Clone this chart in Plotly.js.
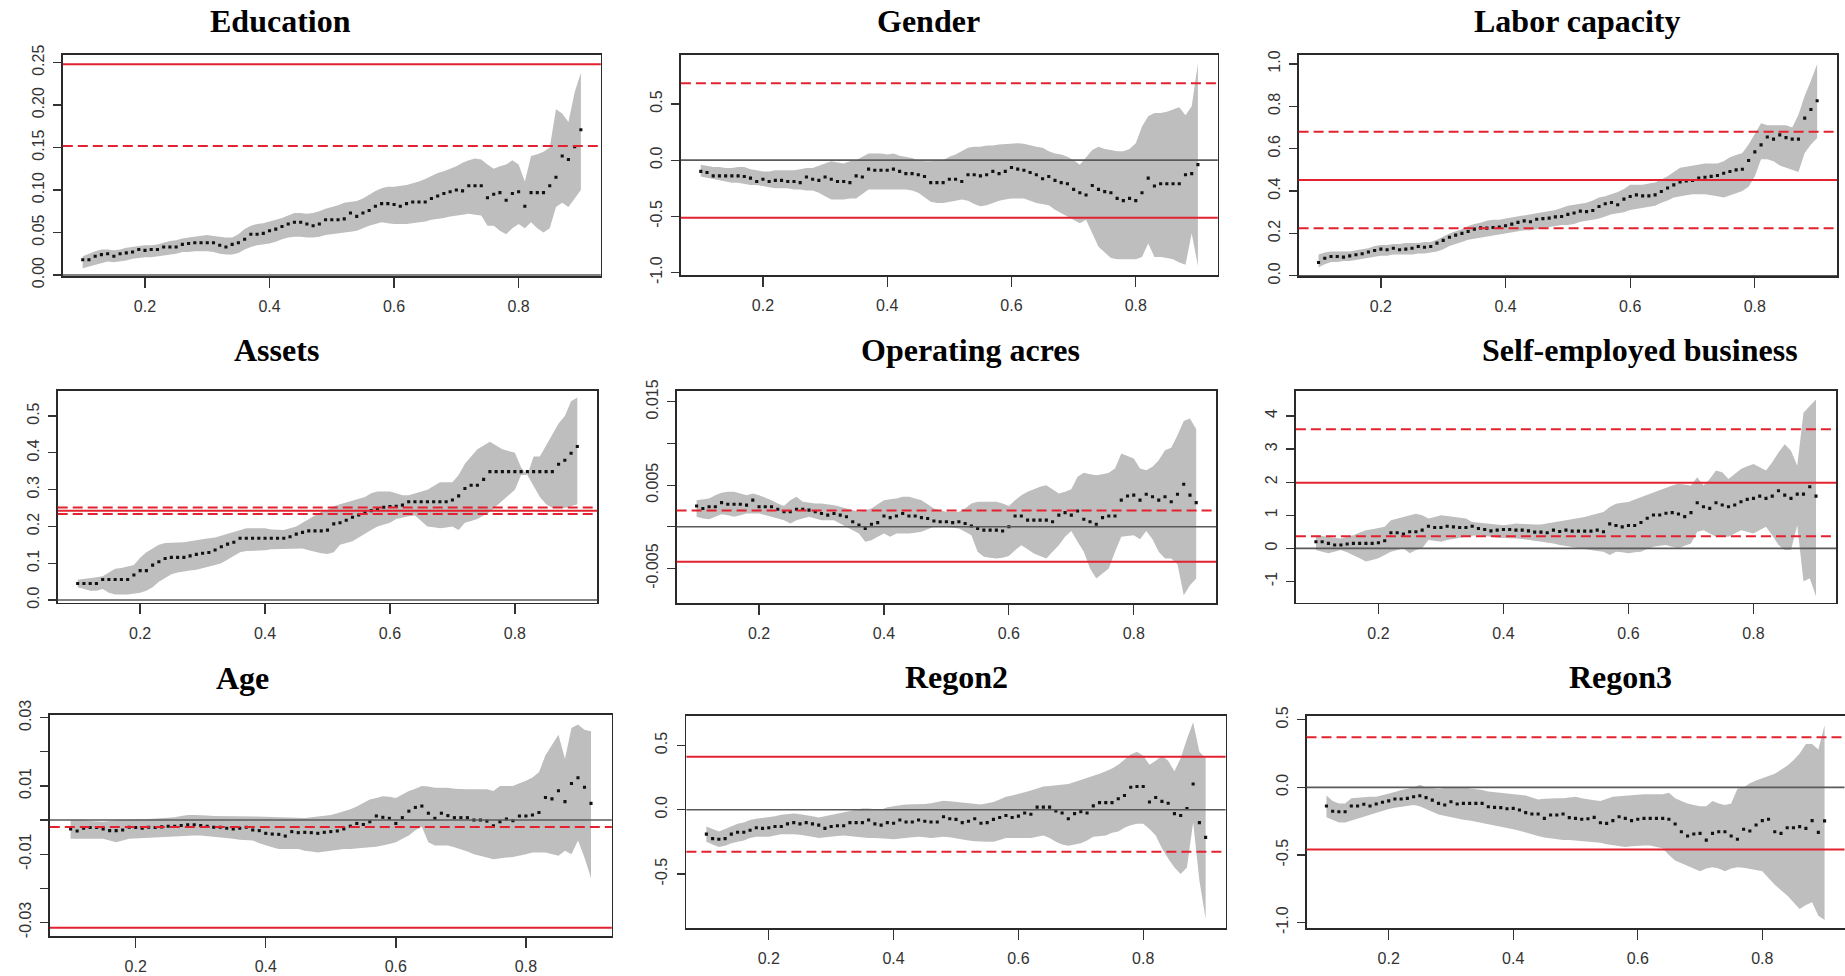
<!DOCTYPE html>
<html><head><meta charset="utf-8">
<script src="https://cdn.plot.ly/plotly-3.0.1.min.js"></script>
<style>html,body{margin:0;padding:0;background:#fff;}#chart{width:1845px;height:976px;}</style>
</head><body><div id="chart"></div>
<script>
// ---------------- DATA ----------------
const taus = [0.10,0.11,0.12,0.13,0.14,0.15,0.16,0.17,0.18,0.19,
0.20,0.21,0.22,0.23,0.24,0.25,0.26,0.27,0.28,0.29,
0.30,0.31,0.32,0.33,0.34,0.35,0.36,0.37,0.38,0.39,
0.40,0.41,0.42,0.43,0.44,0.45,0.46,0.47,0.48,0.49,
0.50,0.51,0.52,0.53,0.54,0.55,0.56,0.57,0.58,0.59,
0.60,0.61,0.62,0.63,0.64,0.65,0.66,0.67,0.68,0.69,
0.70,0.71,0.72,0.73,0.74,0.75,0.76,0.77,0.78,0.79,
0.80,0.81,0.82,0.83,0.84,0.85,0.86,0.87,0.88,0.89,
0.90];

const panelTitles = ['Education','Gender','Labor capacity','Assets','Operating acres','Self-employed business','Age','Regon2','Regon3'];
const xTickVals = [0.2,0.4,0.6,0.8];
const xTickText = ['0.2','0.4','0.6','0.8'];

// Education
const educationEst = [0.018,0.018,0.022,0.024,0.025,0.022,0.025,0.026,0.027,0.030,
0.029,0.030,0.030,0.033,0.033,0.033,0.036,0.037,0.038,0.038,
0.038,0.038,0.035,0.033,0.036,0.038,0.042,0.048,0.048,0.049,
0.052,0.054,0.057,0.060,0.062,0.062,0.060,0.058,0.060,0.065,
0.065,0.065,0.066,0.073,0.069,0.073,0.076,0.081,0.084,0.084,
0.083,0.081,0.084,0.086,0.086,0.086,0.090,0.093,0.096,0.098,
0.100,0.099,0.105,0.105,0.105,0.091,0.095,0.097,0.088,0.096,
0.098,0.081,0.097,0.097,0.097,0.105,0.115,0.140,0.136,0.151,
0.171];
const educationUpper = [0.022,0.025,0.028,0.030,0.030,0.029,0.030,0.032,0.033,0.034,
0.035,0.035,0.036,0.038,0.040,0.041,0.043,0.044,0.045,0.046,
0.047,0.046,0.045,0.044,0.044,0.048,0.054,0.058,0.060,0.061,
0.063,0.065,0.067,0.070,0.073,0.073,0.072,0.073,0.075,0.078,
0.080,0.082,0.085,0.086,0.087,0.090,0.095,0.099,0.102,0.104,
0.104,0.105,0.106,0.108,0.110,0.113,0.117,0.120,0.122,0.125,
0.128,0.132,0.135,0.137,0.136,0.130,0.125,0.128,0.130,0.135,
0.130,0.110,0.140,0.142,0.145,0.150,0.195,0.190,0.180,0.215,
0.238];
const educationLower = [0.008,0.010,0.012,0.014,0.016,0.015,0.016,0.017,0.019,0.020,
0.021,0.021,0.022,0.023,0.024,0.025,0.027,0.027,0.028,0.028,
0.028,0.027,0.025,0.024,0.024,0.026,0.030,0.033,0.035,0.036,
0.037,0.039,0.042,0.044,0.045,0.045,0.044,0.044,0.045,0.047,
0.048,0.049,0.050,0.051,0.052,0.055,0.058,0.060,0.062,0.061,
0.060,0.060,0.060,0.061,0.062,0.063,0.065,0.066,0.067,0.069,
0.070,0.071,0.072,0.071,0.070,0.058,0.058,0.052,0.048,0.055,
0.060,0.055,0.062,0.055,0.050,0.055,0.080,0.085,0.080,0.090,
0.100];

// Gender
const genderEst = [-0.10,-0.11,-0.14,-0.14,-0.14,-0.14,-0.14,-0.145,-0.16,-0.19,
-0.17,-0.19,-0.18,-0.18,-0.19,-0.19,-0.20,-0.15,-0.17,-0.18,
-0.15,-0.17,-0.19,-0.19,-0.20,-0.14,-0.15,-0.08,-0.09,-0.09,
-0.09,-0.08,-0.10,-0.12,-0.12,-0.13,-0.145,-0.20,-0.20,-0.20,
-0.17,-0.17,-0.19,-0.13,-0.13,-0.14,-0.13,-0.10,-0.12,-0.10,
-0.065,-0.08,-0.09,-0.11,-0.13,-0.165,-0.145,-0.18,-0.20,-0.21,
-0.26,-0.29,-0.31,-0.225,-0.26,-0.28,-0.29,-0.34,-0.36,-0.34,
-0.36,-0.29,-0.16,-0.23,-0.21,-0.21,-0.21,-0.21,-0.13,-0.12,
-0.04];
const genderUpper = [-0.04,-0.05,-0.06,-0.06,-0.07,-0.07,-0.06,-0.06,-0.08,-0.09,
-0.10,-0.10,-0.09,-0.09,-0.09,-0.09,-0.08,-0.07,-0.07,-0.05,
-0.03,-0.01,-0.02,-0.03,-0.01,0.00,0.03,0.06,0.06,0.06,
0.05,0.06,0.04,0.03,0.02,0.00,-0.01,-0.01,0.00,0.00,
0.03,0.05,0.08,0.11,0.12,0.12,0.13,0.13,0.14,0.145,
0.15,0.15,0.145,0.13,0.12,0.11,0.08,0.06,0.05,0.03,
0.00,-0.04,0.03,0.09,0.12,0.10,0.09,0.08,0.08,0.10,
0.15,0.30,0.39,0.42,0.42,0.43,0.45,0.47,0.40,0.48,
0.86];
const genderLower = [-0.145,-0.16,-0.17,-0.18,-0.19,-0.20,-0.20,-0.21,-0.22,-0.22,
-0.23,-0.24,-0.25,-0.25,-0.25,-0.26,-0.26,-0.27,-0.27,-0.29,
-0.32,-0.35,-0.35,-0.35,-0.34,-0.34,-0.30,-0.26,-0.26,-0.26,
-0.26,-0.26,-0.26,-0.26,-0.27,-0.29,-0.33,-0.37,-0.38,-0.38,
-0.37,-0.36,-0.35,-0.36,-0.39,-0.41,-0.40,-0.38,-0.36,-0.35,
-0.34,-0.34,-0.34,-0.36,-0.38,-0.39,-0.40,-0.44,-0.47,-0.50,
-0.53,-0.56,-0.53,-0.65,-0.77,-0.82,-0.87,-0.88,-0.88,-0.88,
-0.88,-0.86,-0.74,-0.86,-0.86,-0.87,-0.88,-0.91,-0.93,-0.65,
-0.94];

// Labor capacity
const laborEst = [0.063,0.083,0.091,0.091,0.088,0.094,0.099,0.104,0.112,0.119,
0.126,0.123,0.13,0.123,0.126,0.13,0.138,0.135,0.138,0.154,
0.167,0.182,0.192,0.20,0.209,0.22,0.226,0.225,0.228,0.23,
0.236,0.244,0.252,0.259,0.255,0.267,0.27,0.272,0.278,0.28,
0.29,0.296,0.305,0.303,0.308,0.327,0.34,0.346,0.335,0.362,
0.374,0.382,0.377,0.377,0.382,0.398,0.414,0.429,0.443,0.447,
0.45,0.461,0.465,0.469,0.473,0.484,0.492,0.50,0.503,0.544,
0.585,0.618,0.655,0.645,0.665,0.652,0.645,0.645,0.744,0.785,
0.826];
const laborUpper = [0.10,0.11,0.115,0.115,0.115,0.115,0.12,0.125,0.13,0.14,
0.145,0.145,0.15,0.15,0.155,0.155,0.155,0.16,0.16,0.17,
0.185,0.20,0.21,0.22,0.235,0.245,0.25,0.26,0.265,0.265,
0.27,0.275,0.28,0.285,0.29,0.295,0.30,0.305,0.31,0.32,
0.33,0.335,0.34,0.345,0.355,0.37,0.375,0.385,0.395,0.41,
0.43,0.43,0.43,0.435,0.44,0.455,0.47,0.49,0.51,0.515,
0.52,0.525,0.53,0.53,0.53,0.54,0.56,0.57,0.58,0.62,
0.67,0.72,0.71,0.71,0.71,0.71,0.70,0.76,0.85,0.92,
1.0];
const laborLower = [0.04,0.055,0.065,0.065,0.07,0.07,0.075,0.08,0.085,0.09,
0.095,0.095,0.10,0.10,0.10,0.10,0.105,0.105,0.11,0.115,
0.125,0.14,0.15,0.16,0.17,0.175,0.18,0.185,0.19,0.195,
0.20,0.205,0.21,0.215,0.215,0.22,0.225,0.23,0.235,0.24,
0.24,0.245,0.255,0.26,0.265,0.27,0.28,0.29,0.295,0.30,
0.31,0.315,0.32,0.325,0.33,0.345,0.355,0.37,0.375,0.38,
0.385,0.385,0.385,0.38,0.375,0.37,0.38,0.39,0.40,0.42,
0.47,0.55,0.55,0.54,0.52,0.51,0.50,0.49,0.58,0.62,
0.65];

// Assets
const assetsEst = [0.045,0.045,0.045,0.045,0.056,0.056,0.056,0.056,0.056,0.068,
0.08,0.08,0.095,0.104,0.113,0.116,0.116,0.116,0.12,0.124,
0.127,0.129,0.136,0.145,0.152,0.157,0.168,0.168,0.168,0.168,
0.168,0.168,0.168,0.168,0.172,0.179,0.184,0.188,0.188,0.188,
0.19,0.207,0.21,0.217,0.225,0.231,0.237,0.243,0.248,0.252,
0.254,0.255,0.258,0.267,0.267,0.267,0.267,0.267,0.267,0.267,
0.272,0.283,0.303,0.312,0.312,0.328,0.349,0.349,0.349,0.349,
0.349,0.349,0.349,0.349,0.349,0.349,0.349,0.369,0.38,0.399,
0.417];
const assetsUpper = [0.055,0.058,0.06,0.062,0.065,0.075,0.085,0.087,0.09,0.095,
0.115,0.13,0.14,0.15,0.155,0.155,0.155,0.157,0.16,0.162,
0.165,0.168,0.17,0.175,0.18,0.185,0.19,0.195,0.195,0.195,
0.195,0.192,0.19,0.19,0.195,0.20,0.21,0.22,0.23,0.24,
0.245,0.255,0.26,0.265,0.27,0.275,0.28,0.29,0.295,0.295,
0.295,0.29,0.285,0.285,0.29,0.295,0.30,0.31,0.32,0.32,
0.32,0.34,0.37,0.39,0.41,0.42,0.43,0.42,0.41,0.405,
0.40,0.36,0.34,0.39,0.39,0.42,0.45,0.48,0.50,0.54,
0.55];
const assetsLower = [0.035,0.03,0.025,0.025,0.03,0.02,0.015,0.015,0.015,0.017,
0.02,0.025,0.035,0.05,0.06,0.07,0.075,0.078,0.08,0.082,
0.085,0.09,0.095,0.10,0.11,0.12,0.13,0.133,0.135,0.135,
0.135,0.138,0.14,0.14,0.14,0.14,0.14,0.135,0.13,0.127,
0.125,0.13,0.15,0.155,0.16,0.17,0.18,0.19,0.20,0.205,
0.21,0.22,0.225,0.228,0.23,0.215,0.20,0.198,0.195,0.197,
0.20,0.19,0.21,0.215,0.22,0.23,0.24,0.255,0.27,0.285,
0.30,0.34,0.34,0.31,0.28,0.26,0.25,0.25,0.25,0.255,
0.26];

// Operating acres
const acresEst = [0.0025,0.0022,0.0024,0.0024,0.0029,0.0027,0.0027,0.0027,0.0026,0.0032,
0.0024,0.0024,0.0024,0.0021,0.0018,0.0018,0.0021,0.0021,0.0020,0.0018,
0.0016,0.0014,0.0016,0.0014,0.0012,0.0006,0.0002,-0.0002,0.0003,0.0005,
0.0013,0.0011,0.0013,0.0016,0.0013,0.0013,0.0011,0.0010,0.0007,0.0006,
0.0006,0.0005,0.0006,0.0004,0.0001,-0.0002,-0.0004,-0.0004,-0.0004,-0.0005,
0.0000,0.0013,0.0013,0.0008,0.0008,0.0008,0.0008,0.0006,0.0014,0.0017,
0.0014,0.0019,0.0009,0.0006,0.0003,0.0011,0.0013,0.0013,0.0032,0.0037,
0.0038,0.0032,0.0039,0.0036,0.0032,0.0036,0.0030,0.0039,0.0051,0.0038,
0.0029];
const acresUpper = [0.0032,0.0033,0.0034,0.0038,0.0041,0.0042,0.0042,0.0040,0.0038,0.0040,
0.0038,0.0035,0.0032,0.0028,0.0025,0.0032,0.0036,0.0030,0.0029,0.0028,
0.0028,0.0027,0.0026,0.0024,0.0022,0.0020,0.0018,0.0020,0.0022,0.0027,
0.0032,0.0033,0.0034,0.0036,0.0036,0.0034,0.0032,0.0027,0.0022,0.0020,
0.0018,0.0018,0.0018,0.0022,0.0028,0.0030,0.0030,0.0030,0.0030,0.0028,
0.0025,0.0032,0.0038,0.0042,0.0045,0.0048,0.0050,0.0045,0.0040,0.0042,
0.0045,0.0060,0.0065,0.0063,0.0062,0.0063,0.0065,0.0070,0.0088,0.0085,
0.0082,0.0070,0.0068,0.0072,0.0080,0.0092,0.0095,0.0110,0.0127,0.0130,
0.0117];
const acresLower = [0.0012,0.0010,0.0009,0.0012,0.0015,0.0014,0.0012,0.0014,0.0016,0.0016,
0.0016,0.0014,0.0012,0.0010,0.0008,0.0004,0.0008,0.0010,0.0012,0.0010,
0.0008,0.0008,0.0008,0.0004,0.0000,-0.0004,-0.0008,-0.0018,-0.0016,-0.0012,
-0.0008,-0.0012,-0.0008,-0.0008,-0.0008,-0.0007,-0.0006,-0.0003,0.0000,0.0000,
0.0000,-0.0001,-0.0002,-0.0006,-0.0010,-0.0030,-0.0036,-0.0037,-0.0038,-0.0037,
-0.0035,-0.0028,-0.0022,-0.0027,-0.0032,-0.0035,-0.0038,-0.0030,-0.0022,-0.0012,
-0.0005,-0.0018,-0.0030,-0.0050,-0.0062,-0.0056,-0.0050,-0.0030,-0.0012,-0.0011,
-0.0010,-0.0015,-0.0005,-0.0015,-0.0030,-0.0038,-0.0038,-0.0045,-0.0082,-0.0070,
-0.0062];

// Self-employed business
const selfEmpEst = [0.2,0.2,0.15,0.1,0.1,0.13,0.15,0.15,0.15,0.15,
0.17,0.23,0.47,0.47,0.43,0.5,0.5,0.55,0.67,0.63,
0.63,0.67,0.65,0.63,0.63,0.67,0.6,0.57,0.53,0.55,
0.57,0.57,0.55,0.55,0.53,0.49,0.49,0.47,0.55,0.51,
0.55,0.52,0.52,0.52,0.52,0.55,0.5,0.74,0.69,0.65,
0.69,0.69,0.78,0.91,1.01,1.01,1.06,1.08,1.04,0.96,
1.08,1.38,1.26,1.21,1.38,1.31,1.26,1.31,1.41,1.48,
1.51,1.58,1.51,1.58,1.74,1.61,1.51,1.64,1.64,1.86,
1.58];
const selfEmpUpper = [0.40,0.38,0.35,0.32,0.30,0.35,0.40,0.48,0.55,0.58,
0.62,0.65,0.85,0.90,0.95,1.00,1.05,1.00,0.90,0.95,
1.00,0.98,0.95,0.92,0.90,0.80,0.78,0.75,0.72,0.70,
0.70,0.72,0.75,0.74,0.72,0.72,0.72,0.76,0.80,0.82,
0.85,0.88,0.90,0.95,1.00,1.05,1.10,1.25,1.35,1.38,
1.40,1.48,1.55,1.62,1.70,1.78,1.85,1.90,1.95,1.92,
1.90,2.15,1.90,2.10,2.35,2.30,2.10,2.25,2.40,2.48,
2.55,2.45,2.35,2.60,2.90,3.15,2.95,2.50,4.10,4.30,
4.50];
const selfEmpLower = [-0.05,-0.10,-0.15,-0.10,-0.05,-0.12,-0.20,-0.30,-0.40,-0.35,
-0.30,-0.20,-0.10,-0.05,0.00,-0.15,-0.05,0.00,0.25,0.22,
0.20,0.25,0.30,0.32,0.35,0.38,0.40,0.38,0.35,0.32,
0.30,0.30,0.30,0.28,0.25,0.22,0.20,0.18,0.15,0.10,
0.05,0.02,0.00,-0.02,-0.05,-0.08,-0.10,-0.20,-0.10,-0.12,
-0.15,-0.12,-0.10,-0.02,0.05,0.08,0.10,0.05,0.00,0.08,
0.15,0.50,0.55,0.45,0.35,0.35,0.35,0.45,0.55,0.50,
0.45,0.55,0.65,0.40,0.10,-0.05,-0.05,0.70,-1.00,-0.90,
-1.45];

// Age
const ageEst = [-0.0026,-0.0032,-0.0024,-0.0022,-0.0022,-0.0026,-0.0031,-0.0031,-0.0029,-0.0021,
-0.0022,-0.0024,-0.0021,-0.0022,-0.0020,-0.0018,-0.0018,-0.0016,-0.0014,-0.0014,
-0.0016,-0.0018,-0.0021,-0.0021,-0.0024,-0.0026,-0.0024,-0.0021,-0.0029,-0.0031,
-0.0039,-0.0041,-0.0042,-0.0047,-0.0034,-0.0037,-0.0036,-0.0037,-0.0039,-0.0036,
-0.0034,-0.0032,-0.0026,-0.0018,-0.0010,-0.0013,-0.0005,0.0012,0.0008,0.0005,
-0.0010,0.0007,0.0026,0.0037,0.0041,0.0020,0.0005,0.0020,0.0013,0.0007,
0.0007,0.0007,0.0000,0.0000,-0.0003,-0.0017,-0.0005,0.0003,-0.0002,0.0012,
0.0012,0.0015,0.0022,0.0066,0.0062,0.0086,0.0054,0.0107,0.0124,0.0096,
0.0049];
const ageUpper = [0.0000,0.0000,0.0000,-0.0003,-0.0004,-0.0005,-0.0003,0.0000,0.0000,0.0000,
0.0000,0.0002,0.0003,0.0004,0.0005,0.0005,0.0008,0.0012,0.0015,0.0015,
0.0015,0.0013,0.0012,0.0012,0.0012,0.0012,0.0012,0.0012,0.0011,0.0010,
0.0010,0.0009,0.0008,0.0008,0.0006,0.0005,0.0006,0.0008,0.0010,0.0012,
0.0015,0.0020,0.0025,0.0032,0.0040,0.0050,0.0060,0.0065,0.0070,0.0068,
0.0065,0.0075,0.0085,0.0092,0.0100,0.0098,0.0095,0.0095,0.0095,0.0092,
0.0090,0.0090,0.0090,0.0090,0.0090,0.0085,0.0100,0.0100,0.0100,0.0108,
0.0115,0.0125,0.0140,0.0190,0.0220,0.0250,0.0180,0.0270,0.0280,0.0265,
0.0260];
const ageLower = [-0.0055,-0.0055,-0.0055,-0.0055,-0.0055,-0.0055,-0.0060,-0.0065,-0.0060,-0.0055,
-0.0055,-0.0053,-0.0052,-0.0050,-0.0050,-0.0050,-0.0048,-0.0047,-0.0046,-0.0045,
-0.0045,-0.0048,-0.0050,-0.0050,-0.0053,-0.0055,-0.0058,-0.0060,-0.0060,-0.0068,
-0.0075,-0.0080,-0.0085,-0.0085,-0.0085,-0.0085,-0.0090,-0.0092,-0.0095,-0.0092,
-0.0090,-0.0088,-0.0085,-0.0085,-0.0085,-0.0082,-0.0080,-0.0078,-0.0075,-0.0070,
-0.0065,-0.0055,-0.0045,-0.0030,-0.0020,-0.0065,-0.0075,-0.0075,-0.0075,-0.0080,
-0.0085,-0.0092,-0.0100,-0.0105,-0.0110,-0.0115,-0.0112,-0.0110,-0.0108,-0.0105,
-0.0100,-0.0095,-0.0095,-0.0095,-0.0100,-0.0105,-0.0090,-0.0100,-0.0060,-0.0110,
-0.0170];

// Regon2
const regon2Est = [-0.19,-0.225,-0.23,-0.225,-0.19,-0.175,-0.175,-0.16,-0.14,-0.145,
-0.14,-0.13,-0.13,-0.11,-0.10,-0.11,-0.10,-0.11,-0.12,-0.145,
-0.13,-0.125,-0.125,-0.10,-0.10,-0.10,-0.08,-0.11,-0.12,-0.10,
-0.105,-0.08,-0.095,-0.095,-0.08,-0.09,-0.095,-0.095,-0.055,-0.07,
-0.075,-0.10,-0.09,-0.07,-0.105,-0.10,-0.075,-0.06,-0.045,-0.06,
-0.05,-0.025,-0.035,0.02,0.02,0.02,-0.01,-0.025,-0.07,-0.03,
-0.015,-0.025,0.03,0.055,0.055,0.055,0.085,0.11,0.175,0.18,
0.18,0.06,0.095,0.065,0.05,-0.03,-0.045,0.01,0.20,-0.10,
-0.215];
const regon2Upper = [-0.13,-0.15,-0.17,-0.15,-0.13,-0.11,-0.10,-0.08,-0.07,-0.065,
-0.06,-0.05,-0.04,-0.035,-0.03,-0.035,-0.04,-0.05,-0.06,-0.05,
-0.04,-0.03,-0.02,-0.01,0.00,0.01,0.01,0.005,0.00,0.02,
0.03,0.035,0.04,0.04,0.04,0.045,0.05,0.06,0.07,0.065,
0.06,0.055,0.05,0.045,0.04,0.05,0.06,0.08,0.10,0.11,
0.12,0.135,0.15,0.165,0.18,0.185,0.19,0.195,0.20,0.215,
0.23,0.245,0.26,0.28,0.30,0.32,0.35,0.39,0.43,0.45,
0.42,0.35,0.38,0.42,0.38,0.30,0.40,0.55,0.68,0.45,
0.40];
const regon2Lower = [-0.25,-0.27,-0.29,-0.28,-0.26,-0.25,-0.24,-0.22,-0.21,-0.21,
-0.21,-0.20,-0.19,-0.19,-0.19,-0.195,-0.20,-0.21,-0.22,-0.215,
-0.21,-0.205,-0.20,-0.205,-0.21,-0.215,-0.22,-0.22,-0.22,-0.225,
-0.23,-0.225,-0.22,-0.215,-0.21,-0.215,-0.22,-0.215,-0.21,-0.215,
-0.22,-0.23,-0.24,-0.245,-0.25,-0.25,-0.25,-0.235,-0.22,-0.22,
-0.22,-0.22,-0.22,-0.21,-0.20,-0.22,-0.25,-0.27,-0.28,-0.27,
-0.26,-0.24,-0.21,-0.205,-0.20,-0.18,-0.17,-0.14,-0.12,-0.11,
-0.11,-0.15,-0.20,-0.30,-0.38,-0.45,-0.50,-0.45,-0.10,-0.55,
-0.85];

// Regon3
const regon3Est = [-0.138,-0.177,-0.18,-0.18,-0.138,-0.138,-0.125,-0.138,-0.123,-0.11,
-0.10,-0.086,-0.086,-0.081,-0.069,-0.062,-0.076,-0.094,-0.118,-0.13,
-0.106,-0.123,-0.118,-0.118,-0.118,-0.118,-0.143,-0.148,-0.15,-0.158,
-0.155,-0.167,-0.187,-0.197,-0.197,-0.229,-0.204,-0.204,-0.197,-0.224,
-0.229,-0.236,-0.232,-0.222,-0.261,-0.266,-0.246,-0.217,-0.229,-0.246,
-0.236,-0.229,-0.229,-0.229,-0.229,-0.236,-0.271,-0.328,-0.36,-0.345,
-0.34,-0.39,-0.34,-0.328,-0.328,-0.36,-0.384,-0.31,-0.323,-0.278,
-0.246,-0.236,-0.328,-0.34,-0.298,-0.298,-0.29,-0.303,-0.246,-0.333,
-0.248];
const regon3Upper = [-0.06,-0.10,-0.12,-0.12,-0.08,-0.075,-0.07,-0.07,-0.07,-0.06,
-0.05,-0.035,-0.02,-0.01,0.00,0.02,0.00,-0.005,-0.01,-0.005,
0.00,0.00,0.00,-0.005,-0.01,-0.02,-0.03,-0.035,-0.04,-0.045,
-0.05,-0.055,-0.06,-0.075,-0.09,-0.085,-0.08,-0.08,-0.08,-0.075,
-0.07,-0.08,-0.09,-0.095,-0.10,-0.085,-0.07,-0.065,-0.06,-0.055,
-0.05,-0.05,-0.05,-0.05,-0.05,-0.04,-0.08,-0.10,-0.12,-0.13,
-0.14,-0.14,-0.10,-0.12,-0.13,-0.12,-0.01,0.00,0.03,0.05,
0.07,0.085,0.10,0.13,0.16,0.20,0.25,0.32,0.32,0.28,
0.46];
const regon3Lower = [-0.22,-0.24,-0.26,-0.26,-0.25,-0.235,-0.22,-0.205,-0.19,-0.175,
-0.16,-0.15,-0.14,-0.135,-0.13,-0.14,-0.16,-0.18,-0.20,-0.21,
-0.22,-0.23,-0.24,-0.245,-0.25,-0.26,-0.27,-0.28,-0.29,-0.30,
-0.31,-0.32,-0.33,-0.345,-0.36,-0.37,-0.38,-0.385,-0.39,-0.39,
-0.39,-0.395,-0.40,-0.405,-0.41,-0.42,-0.43,-0.435,-0.44,-0.435,
-0.43,-0.43,-0.43,-0.44,-0.45,-0.50,-0.54,-0.56,-0.58,-0.60,
-0.62,-0.60,-0.59,-0.60,-0.62,-0.60,-0.59,-0.595,-0.60,-0.61,
-0.62,-0.67,-0.72,-0.76,-0.80,-0.85,-0.90,-0.87,-0.85,-0.95,
-0.98];

// OLS estimate and its confidence bounds (red lines), one per panel
const olsCoef  = [0.248, -0.511, 0.452, 0.2425, -0.00418, 1.98, -0.0316, 0.411, -0.46];
const olsLower = [0.152, -1.705, 0.224, 0.2335, -0.0103, 0.37, -0.0612, -0.326, -1.29];
const olsUpper = [0.344, 0.683, 0.680, 0.2515, 0.00196, 3.60, -0.00205, 1.148, 0.37];

// y-axis ticks
const yTickVals = [
  [0,0.05,0.10,0.15,0.20,0.25],
  [-1,-0.5,0,0.5],
  [0,0.2,0.4,0.6,0.8,1.0],
  [0,0.1,0.2,0.3,0.4,0.5],
  [-0.005,0,0.005,0.010,0.015],
  [-1,0,1,2,3,4],
  [-0.03,-0.02,-0.01,0,0.01,0.02,0.03],
  [-0.5,0,0.5],
  [-1,-0.5,0,0.5]
];
const yTickText = [
  ['0.00','0.05','0.10','0.15','0.20','0.25'],
  ['-1.0','-0.5','0.0','0.5'],
  ['0.0','0.2','0.4','0.6','0.8','1.0'],
  ['0.0','0.1','0.2','0.3','0.4','0.5'],
  ['-0.005','','0.005','','0.015'],
  ['-1','0','1','2','3','4'],
  ['-0.03','','-0.01','','0.01','','0.03'],
  ['-0.5','0.0','0.5'],
  ['-1.0','-0.5','0.0','0.5']
];

const estimates = [educationEst, genderEst, laborEst, assetsEst, acresEst, selfEmpEst, ageEst, regon2Est, regon3Est];
const uppers = [educationUpper, genderUpper, laborUpper, assetsUpper, acresUpper, selfEmpUpper, ageUpper, regon2Upper, regon3Upper];
const lowers = [educationLower, genderLower, laborLower, assetsLower, acresLower, selfEmpLower, ageLower, regon2Lower, regon3Lower];

// ---------------- LAYOUT GEOMETRY (pixels) ----------------
const W = 1845, H = 976;
const boxesPx = [
  [62.8,55,600.8,276],[680.9,55,1217.8,275],[1298.6,55,1837.1,276],
  [57.7,391,597.3,602.7],[676.6,391,1216.2,603.3],[1295.9,391,1836,602.7],
  [49.8,715,611.8,936],[686.4,715.7,1225.6,928.3],[1306.5,715.7,1844.5,928.3]
];
const yRanges = [
  [-0.0012,0.259],[-1.021,0.935],[-0.001,1.042],
  [-0.0072,0.568],[-0.00918,0.0163],[-1.642,4.756],
  [-0.034,0.0308],[-0.922,0.731],[-1.042,0.530]
];
const xRange = [0.068,0.932];
const titlePx = [[280.4,20.5],[928.8,20.5],[1577,21],[276.5,350.5],[970,350.5],[1639.8,349.5],[242,677.5],[956.2,677],[1620.2,677]];

const RED = '#e3222f';
const tickFont = {family:'Liberation Sans, Arial, sans-serif', size:16, color:'#333'};

const traces = [];
const shapes = [];
const annotations = [];
const layout = {
  width: W, height: H,
  margin: {l:0,r:0,t:0,b:0},
  paper_bgcolor:'#fff', plot_bgcolor:'#fff',
  showlegend:false,
};

for (let i = 0; i < 9; i++) {
  const k = i === 0 ? '' : String(i+1);
  const [x0,y0,x1,y1] = boxesPx[i];
  const xa = 'x'+k, ya = 'y'+k;
  layout['xaxis'+k] = {
    domain:[x0/W, x1/W], anchor: ya, range: xRange,
    tickvals: xTickVals, ticktext: xTickText, tickfont: tickFont,
    ticks:'outside', ticklen:10, tickwidth:1.3, tickcolor:'#333',
    showline:true, mirror:true, linecolor:'#2a2a2a', linewidth:1.6,
    showgrid:false, zeroline:false, fixedrange:true, ticklabelstandoff:5
  };
  layout['yaxis'+k] = {
    domain:[1-y1/H, 1-y0/H], anchor: xa, range: yRanges[i],
    tickvals: yTickVals[i], ticktext: yTickText[i], tickfont: tickFont,
    tickangle:-90,
    ticks:'outside', ticklen:8, tickwidth:1.3, tickcolor:'#333',
    showline:true, mirror:true, linecolor:'#2a2a2a', linewidth:1.6,
    showgrid:false, zeroline:false, fixedrange:true, ticklabelstandoff:3
  };
  // confidence band
  traces.push({
    type:'scatter', mode:'lines', xaxis:xa, yaxis:ya,
    x: taus.concat(taus.slice().reverse()),
    y: uppers[i].concat(lowers[i].slice().reverse()),
    fill:'toself', fillcolor:'#bebebe', line:{width:0, color:'#bebebe'},
    hoverinfo:'skip'
  });
  // quantile estimates
  traces.push({
    type:'scatter', mode:'markers', xaxis:xa, yaxis:ya,
    x: taus, y: estimates[i],
    marker:{symbol:'square', size:3.1, color:'#111', line:{width:0}},
    cliponaxis:true
  });
  const [r0, r1] = yRanges[i];
  const inRange = v => v > r0 && v < r1;
  const xdom = (k === '' ? 'x' : 'x'+k) + ' domain';
  if (inRange(0)) {
    shapes.push({type:'line', xref:xdom, yref:ya, x0:0, x1:1, y0:0, y1:0,
      line:{color:'#5a5a5a', width:1.6}, layer:'above'});
  }
  if (inRange(olsCoef[i])) {
    shapes.push({type:'line', xref:xdom, yref:ya, x0:0, x1:1, y0:olsCoef[i], y1:olsCoef[i],
      line:{color:RED, width:2}, layer:'above'});
  }
  [olsLower[i], olsUpper[i]].forEach(v => {
    if (inRange(v)) shapes.push({type:'line', xref:xdom, yref:ya, x0:0, x1:1, y0:v, y1:v,
      line:{color:RED, width:2, dash:'10px,5px'}, layer:'above'});
  });
  annotations.push({
    text:'<b>'+panelTitles[i]+'</b>', xref:'paper', yref:'paper',
    x: titlePx[i][0]/W, y: 1 - titlePx[i][1]/H, xanchor:'center', yanchor:'middle',
    showarrow:false, font:{family:'Liberation Serif, Times New Roman, serif', size:32, color:'#000'}
  });
}
layout.shapes = shapes;
layout.annotations = annotations;

Plotly.newPlot('chart', traces, layout, {displayModeBar:false, staticPlot:true});
</script>
</body></html>
